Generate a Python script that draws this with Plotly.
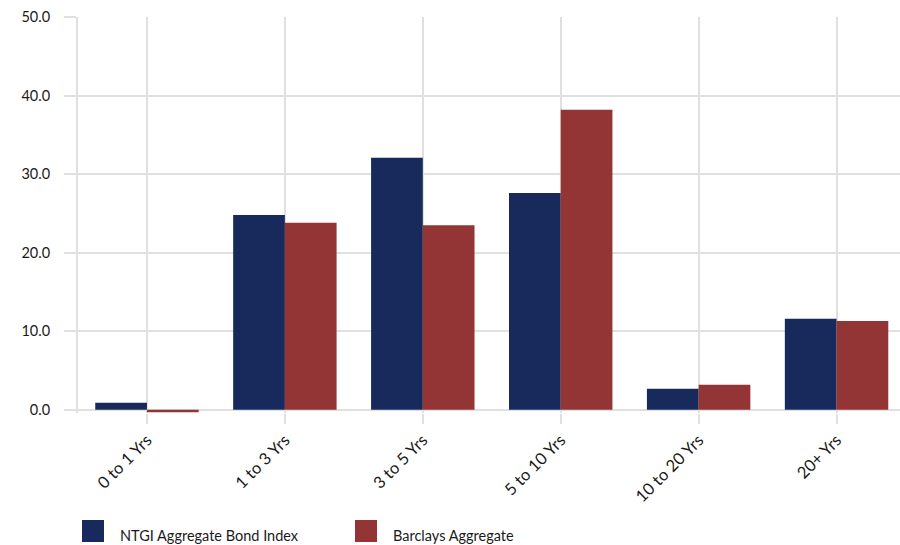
import plotly.graph_objects as go

categories = ["0 to 1 Yrs", "1 to 3 Yrs", "3 to 5 Yrs", "5 to 10 Yrs", "10 to 20 Yrs", "20+ Yrs"]
ntgi = [0.9, 24.8, 32.1, 27.6, 2.7, 11.6]
barclays = [-0.3, 23.8, 23.5, 38.2, 3.2, 11.3]
series_names = ["NTGI Aggregate Bond Index", "Barclays Aggregate"]
colors = ["#182a5b", "#943535"]
ytick_vals = [0, 10, 20, 30, 40, 50]
ytick_text = ["0.0", "10.0", "20.0", "30.0", "40.0", "50.0"]

grid = "#e0e0e0"
font = "Lato, 'Open Sans', sans-serif"

W, H = 900, 545
L, R, T, B = 78, 0, 17, 132
PW, PH = W - L - R, H - T - B


def px(x):
    return (x - L) / PW


def py(y):
    return (H - B - y) / PH


fig = go.Figure()
fig.add_trace(go.Bar(x=categories, y=ntgi, name=series_names[0], marker_color=colors[0], marker_line_width=0))
fig.add_trace(go.Bar(x=categories, y=barclays, name=series_names[1], marker_color=colors[1], marker_line_width=0))

fig.update_layout(
    width=W, height=H,
    margin=dict(l=L, r=R, t=T, b=B, autoexpand=False),
    barmode="group", bargap=0.25, bargroupgap=0,
    plot_bgcolor="white", paper_bgcolor="white",
    showlegend=False,
    font=dict(family=font, size=14, color="#1a1a1a"),
    xaxis=dict(
        range=[-0.5, 5.46],
        showgrid=True, gridcolor=grid, gridwidth=2,
        ticks="outside", ticklen=10, tickcolor=grid, tickwidth=2,
        tickangle=-45, tickfont=dict(size=16.5, color="#1a1a1a"),
        showline=False, automargin=False,
    ),
    yaxis=dict(
        range=[-0.4, 50], tickvals=ytick_vals, ticktext=ytick_text,
        showgrid=True, gridcolor=grid, gridwidth=2,
        zeroline=True, zerolinecolor=grid, zerolinewidth=2,
        ticks="outside", ticklen=12, tickcolor=grid, tickwidth=2,
        showline=True, linecolor=grid, linewidth=2,
        ticklabelstandoff=11,
        tickfont=dict(size=14.5, color="#1a1a1a"), automargin=False,
    ),
)

# legend drawn below the chart
legend_x = [82, 355]
for i, name in enumerate(series_names):
    fig.add_shape(type="rect", xref="paper", yref="paper",
                  x0=px(legend_x[i]), x1=px(legend_x[i] + 22),
                  y0=py(542), y1=py(520),
                  fillcolor=colors[i], line_width=0)
    fig.add_annotation(xref="paper", yref="paper", x=px(legend_x[i] + 36),
                       y=py(535), text=name, showarrow=False,
                       xanchor="left", yanchor="middle",
                       font=dict(size=14.5, color="#1a1a1a", family=font))

fig.write_html("out.html", config={"displayModeBar": False},
               post_script="document.body.style.margin='0';document.body.style.overflow='hidden';")
